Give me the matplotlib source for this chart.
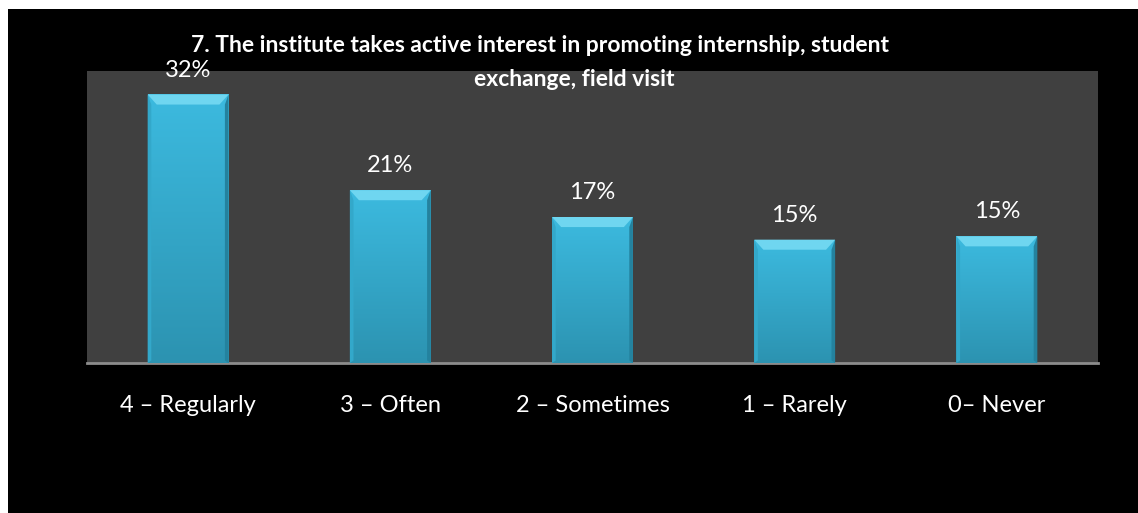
import numpy as np
import matplotlib.pyplot as plt
from matplotlib.patches import Rectangle, Polygon
from matplotlib.colors import LinearSegmentedColormap

categories = ['4 – Regularly', '3 – Often', '2 – Sometimes', '1 – Rarely', '0– Never']
values = [32.0, 20.6, 17.4, 14.7, 15.1]
labels = ['32%', '21%', '17%', '15%', '15%']
title_lines = ['7. The institute takes active interest in promoting internship, student',
               'exchange, field visit']

plt.rcParams['font.family'] = ['Lato', 'DejaVu Sans']

fig = plt.figure(figsize=(11.38, 5.13), dpi=100, facecolor='black')
# thin white strips at top and left of the slide image
fig.patches.append(Rectangle((0, 1 - 9 / 513), 1, 9 / 513, transform=fig.transFigure,
                             facecolor='white', edgecolor='none', zorder=0))
fig.patches.append(Rectangle((0, 0), 8 / 1138, 1, transform=fig.transFigure,
                             facecolor='white', edgecolor='none', zorder=0))

ax = fig.add_axes([87 / 1138, 150 / 513, 1011 / 1138, 292 / 513])
ax.set_facecolor('#404040')

x = np.arange(len(categories))
width = 0.4
bars = ax.bar(x, values, width=width, color='#36AED0', edgecolor='none', zorder=2)

ax.set_xlim(-0.5, len(categories) - 0.5)
ax.set_ylim(0, 34.8)

cmap = LinearSegmentedColormap.from_list('bar', ['#2C93B1', '#3CBADF'])
grad = np.linspace(0, 1, 100).reshape(-1, 1)
bx, by = 0.045, 1.2  # bevel size in data units
for b in bars:
    x0, w, h = b.get_x(), b.get_width(), b.get_height()
    im = ax.imshow(grad, extent=[x0, x0 + w, 0, h], origin='lower', cmap=cmap,
                   aspect='auto', zorder=3)
    im.set_clip_path(b)
    x1 = x0 + w
    # bevel: light top, thin darker sides
    ax.add_patch(Polygon([[x0, h], [x1, h], [x1 - bx, h - by], [x0 + bx, h - by]],
                         closed=True, facecolor='#6FD6F0', edgecolor='none', zorder=4))
    ax.add_patch(Polygon([[x0, h], [x0 + bx * 0.4, h - by], [x0 + bx * 0.4, 0.3], [x0, 0]],
                         closed=True, facecolor='#33A8CA', edgecolor='none', zorder=4))
    ax.add_patch(Polygon([[x1, h], [x1 - bx * 0.4, h - by], [x1 - bx * 0.4, 0.3], [x1, 0]],
                         closed=True, facecolor='#24829E', edgecolor='none', zorder=4))

for xi, v, lab in zip(x, values, labels):
    ax.annotate(lab, (xi, v), xytext=(0, 10), textcoords='offset points',
                ha='center', va='bottom', color='white', fontsize=17, zorder=5,
                annotation_clip=False)

ax.set_xticks(x)
ax.set_xticklabels(categories, color='white', fontsize=17)
ax.tick_params(axis='x', length=0, pad=23)
ax.set_yticks([])
for side in ['top', 'right', 'left']:
    ax.spines[side].set_visible(False)
ax.spines['bottom'].set_color('#8C8C8C')
ax.spines['bottom'].set_linewidth(2)

fig.text(540 / 1138, 1 - 46 / 513, title_lines[0], ha='center', va='center',
         color='white', fontsize=16.5, fontweight='bold')
fig.text(574 / 1138, 1 - 80 / 513, title_lines[1], ha='center', va='center',
         color='white', fontsize=16.5, fontweight='bold')

fig.savefig('out.png', dpi=100, facecolor='black')
